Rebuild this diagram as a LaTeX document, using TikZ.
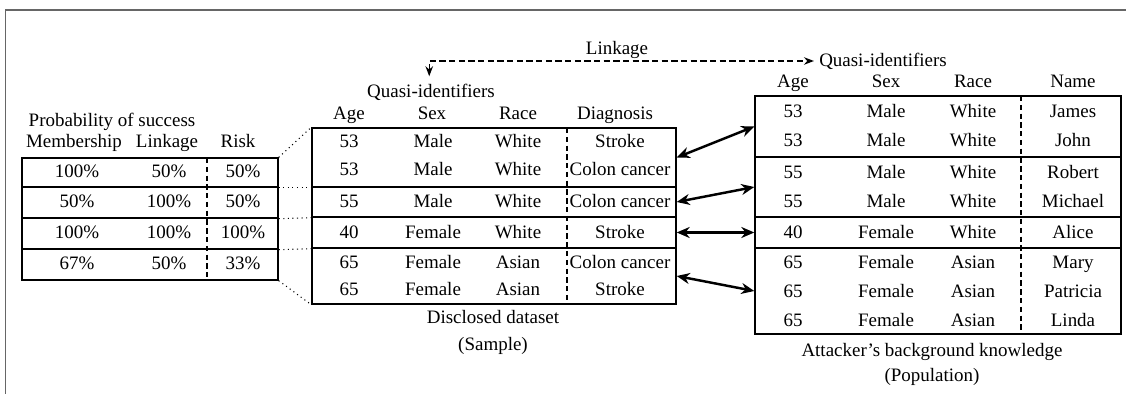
\documentclass[tikz,border=0pt]{standalone}
\usepackage{fontspec}
\setmainfont{Liberation Serif}
\usetikzlibrary{arrows.meta,positioning,fit,calc}

\begin{document}
\begin{tikzpicture}[x=0.02cm, y=-0.02cm,
    every node/.style={font=\fontsize{10.8}{13}\selectfont, inner sep=0pt, text height=8pt, text depth=1.5pt},
    grp/.style={draw, rectangle, line width=0.8pt, inner sep=0pt},
    sep/.style={dashed, line width=0.8pt, dash pattern=on 3pt off 2pt},
    zoomln/.style={dotted, line width=0.6pt},
    link/.style={{Stealth[length=2.6mm,width=2.2mm]}-{Stealth[length=2.6mm,width=2.2mm]}, line width=1.4pt},
    quasi/.style={dashed, line width=0.8pt, dash pattern=on 3.5pt off 2pt, {Stealth[length=2mm]}-{Stealth[length=2mm]}}
  ]
    \useasboundingbox (0,0) rectangle (1126,394);
    % frame
    \draw[black!60, line width=1.1pt] (1126,10) -- (5.5,10) -- (5.5,394);

    % probability table
    \node (ptitle) at (112,121) {Probability of success};
    \node (phm) at (74,142) {Membership};
    \node (phl) at (167,142) {Linkage};
    \node (phr) at (238,142) {Risk};
    \node[grp, fit={(22,158) (278,187)}] (l1) {};
    \node[grp, fit={(22,187) (278,218)}] (l2) {};
    \node[grp, fit={(22,218) (278,249)}] (l3) {};
    \node[grp, fit={(22,249) (278,280)}] (l4) {};
    \draw[sep] (207,158) -- (207,280);
    \foreach \y/\a/\b/\c [count=\i] in {172/100\%/50\%/50\%, 202/50\%/100\%/50\%,
        233/100\%/100\%/100\%, 264/67\%/50\%/33\%} {
      \node (p\i a) at (77,\y) {\a};
      \node (p\i b) at (169,\y) {\b};
      \node (p\i c) at (243,\y) {\c};
    }

    % disclosed dataset
    \node (qm) at (431,92) {Quasi-identifiers};
    \node (mage) at (349,114) {Age};
    \node (msex) at (432,114) {Sex};
    \node (mrace) at (518,114) {Race};
    \node (mdiag) at (615,114) {Diagnosis};
    \node[grp, fit={(312,128) (676,187)}] (m1) {};
    \node[grp, fit={(312,187) (676,217)}] (m2) {};
    \node[grp, fit={(312,217) (676,248)}] (m3) {};
    \node[grp, fit={(312,248) (676,304)}] (m4) {};
    \draw[sep] (567,128) -- (567,304);
    \foreach \y/\a/\s/\r/\d [count=\i] in {142/53/Male/White/Stroke, 170/53/Male/White/Colon cancer,
        202/55/Male/White/Colon cancer, 233/40/Female/White/Stroke,
        263/65/Female/Asian/Colon cancer, 290/65/Female/Asian/Stroke} {
      \node (m\i a) at (349,\y) {\a};
      \node (m\i s) at (433,\y) {\s};
      \node (m\i r) at (518,\y) {\r};
      \node (m\i d) at (620,\y) {\d};
    }
    \node (mcap) at (493,318) {Disclosed dataset};
    \node (msub) at (493,345) {(Sample)};

    % background knowledge
    \node[outer sep=3pt] (qr) at (883,61) {Quasi-identifiers};
    \node (rage) at (793,82) {Age};
    \node (rsex) at (886,82) {Sex};
    \node (rrace) at (973,82) {Race};
    \node (rname) at (1073,82) {Name};
    \node[grp, fit={(755,96) (1121,157)}] (r1) {};
    \node[grp, fit={(755,157) (1121,217)}] (r2) {};
    \node[grp, fit={(755,217) (1121,248)}] (r3) {};
    \node[grp, fit={(755,248) (1121,334)}] (r4) {};
    \draw[sep] (1021,96) -- (1021,334);
    \foreach \y/\a/\s/\r/\n [count=\i] in {112/53/Male/White/James, 141/53/Male/White/John,
        173/55/Male/White/Robert, 202/55/Male/White/Michael, 233/40/Female/White/Alice,
        263/65/Female/Asian/Mary, 292/65/Female/Asian/Patricia, 321/65/Female/Asian/Linda} {
      \node (r\i a) at (793,\y) {\a};
      \node (r\i s) at (886,\y) {\s};
      \node (r\i r) at (973,\y) {\r};
      \node (r\i n) at (1073,\y) {\n};
    }
    \node (rcap) at (932,351) {Attacker’s background knowledge};
    \node (rsub) at (932,376) {(Population)};

    % linkage between quasi-identifiers
    \draw[quasi] ([xshift=-1pt,yshift=4pt]qm.north) |- (qr.west);
    \node (lk) at (617,49) {Linkage};

    % zoom lines
    \draw[zoomln] (l1.north east) -- (m1.north west);
    \draw[zoomln] (l1.south east) -- (m1.south west);
    \draw[zoomln] (l2.south east) -- (m2.south west);
    \draw[zoomln] (l3.south east) -- (m3.south west);
    \draw[zoomln] (l4.south east) -- (m4.south west);

    % matching records
    \draw[link] (m1.east) -- (r1.west);
    \draw[link] (m2.east) -- (r2.west);
    \draw[link] (m3.east) -- (r3.west);
    \draw[link] (m4.east) -- (r4.west);
\end{tikzpicture}
\end{document}
